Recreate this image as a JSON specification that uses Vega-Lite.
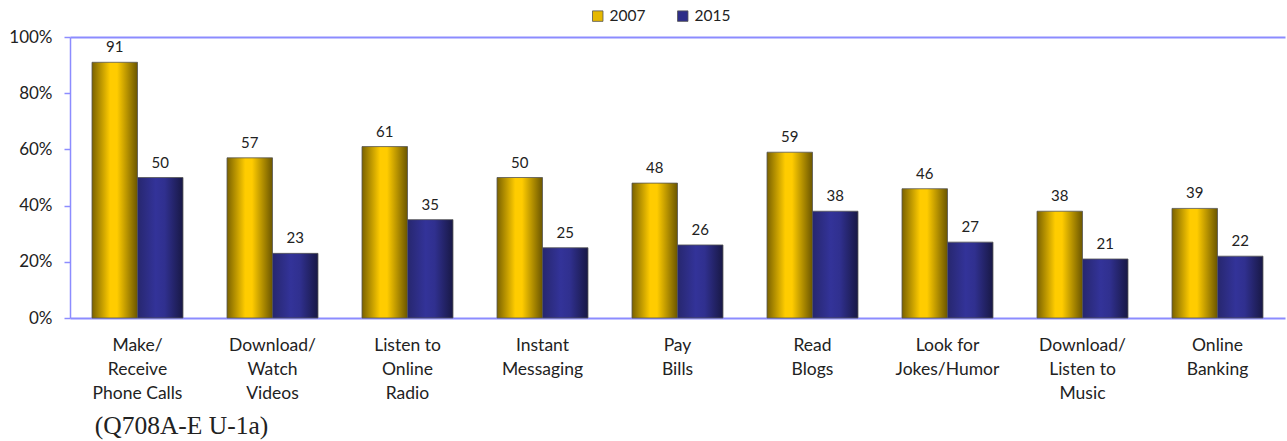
{
  "$schema": "https://vega.github.io/schema/vega-lite/v6.json",
  "width": 1215,
  "height": 281,
  "autosize": {"type": "none"},
  "padding": {"left": 70, "top": 37, "right": 2, "bottom": 123},
  "background": "white",
  "config": {"font": "Lato", "view": {"stroke": null}},
  "title": {"text": "(Q708A-E U-1a)", "orient": "bottom", "anchor": "start", "font": "Liberation Serif", "fontSize": 25.5, "fontWeight": "normal", "color": "#222222", "dx": 86, "offset": 12},
  "data": {
    "values": [
      {"activity": "Make/|Receive|Phone Calls", "year": "2007", "pct": 91},
      {"activity": "Make/|Receive|Phone Calls", "year": "2015", "pct": 50},
      {"activity": "Download/|Watch|Videos", "year": "2007", "pct": 57},
      {"activity": "Download/|Watch|Videos", "year": "2015", "pct": 23},
      {"activity": "Listen to|Online|Radio", "year": "2007", "pct": 61},
      {"activity": "Listen to|Online|Radio", "year": "2015", "pct": 35},
      {"activity": "Instant|Messaging", "year": "2007", "pct": 50},
      {"activity": "Instant|Messaging", "year": "2015", "pct": 25},
      {"activity": "Pay|Bills", "year": "2007", "pct": 48},
      {"activity": "Pay|Bills", "year": "2015", "pct": 26},
      {"activity": "Read|Blogs", "year": "2007", "pct": 59},
      {"activity": "Read|Blogs", "year": "2015", "pct": 38},
      {"activity": "Look for|Jokes/Humor", "year": "2007", "pct": 46},
      {"activity": "Look for|Jokes/Humor", "year": "2015", "pct": 27},
      {"activity": "Download/|Listen to|Music", "year": "2007", "pct": 38},
      {"activity": "Download/|Listen to|Music", "year": "2015", "pct": 21},
      {"activity": "Online|Banking", "year": "2007", "pct": 39},
      {"activity": "Online|Banking", "year": "2015", "pct": 22}
    ]
  },
  "encoding": {
    "x": {
      "field": "activity", "type": "nominal", "sort": null,
      "scale": {"paddingInner": 0.326, "paddingOuter": 0.163},
      "axis": {"title": null, "labelExpr": "split(datum.value, '|')", "labelAngle": 0, "ticks": false, "domainColor": "#8c8cff", "domainWidth": 2, "labelFontSize": 17.5, "labelLineHeight": 24, "labelPadding": 18, "labelColor": "#222222"}
    },
    "xOffset": {"field": "year", "type": "nominal"},
    "y": {
      "field": "pct", "type": "quantitative",
      "scale": {"domain": [0, 100]},
      "axis": {"title": null, "values": [0, 20, 40, 60, 80, 100], "labelExpr": "datum.value + '%'", "domainColor": "#8c8cff", "domainWidth": 1.5, "tickColor": "#8c8cff", "tickSize": 6, "tickWidth": 1.5, "labelPadding": 12, "labelFontSize": 17, "labelColor": "#222222", "grid": true, "gridColor": "#8c8cff", "gridWidth": 2, "gridOpacity": {"condition": {"test": "datum.value === 100", "value": 1}, "value": 0}}
    }
  },
  "layer": [
    {
      "mark": {"type": "bar", "stroke": "#555555", "strokeWidth": 0.8},
      "encoding": {
        "color": {
          "condition": {
            "test": "datum.year === '2007'",
            "value": {"gradient": "linear", "x1": 0, "x2": 1, "y1": 0, "y2": 0, "stops": [{"offset": 0, "color": "#7a6200"}, {"offset": 0.4, "color": "#ffcc00"}, {"offset": 0.55, "color": "#ffcc00"}, {"offset": 1, "color": "#6b5600"}]}
          },
          "value": {"gradient": "linear", "x1": 0, "x2": 1, "y1": 0, "y2": 0, "stops": [{"offset": 0, "color": "#27276f"}, {"offset": 0.4, "color": "#333399"}, {"offset": 0.6, "color": "#30308f"}, {"offset": 1, "color": "#181845"}]}
        }
      }
    },
    {
      "mark": {"type": "square", "opacity": 0},
      "encoding": {
        "color": {
          "field": "year", "type": "nominal",
          "scale": {"domain": ["2007", "2015"], "range": ["#e6b800", "#2e2e88"]},
          "legend": {"title": null, "orient": "none", "legendX": 520, "legendY": -29, "direction": "horizontal", "symbolType": "square", "symbolSize": 110, "symbolOpacity": 1, "symbolStrokeColor": "#555555", "symbolStrokeWidth": 0.8, "labelFontSize": 15.5, "labelColor": "#222222", "labelOffset": 4, "columnPadding": 29}
        }
      }
    },
    {
      "mark": {"type": "text", "dy": -10, "baseline": "alphabetic", "fontSize": 15, "color": "#222222"},
      "encoding": {"text": {"field": "pct", "type": "quantitative"}}
    }
  ]
}
